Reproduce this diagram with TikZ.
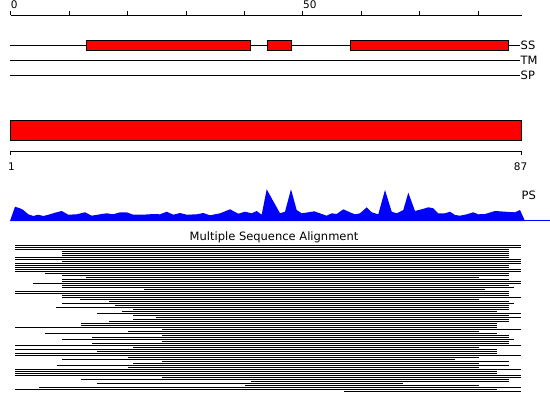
\documentclass[tikz,border=0pt]{standalone}
\usepackage{fontspec}
\setmainfont{DejaVu Sans}
\usetikzlibrary{positioning}

\begin{document}
\begin{tikzpicture}[x=1pt,y=-1pt,
    lbl/.style={inner sep=0pt,font=\fontsize{11.5}{13}\selectfont},
    num/.style={inner sep=0pt,font=\fontsize{10.5}{12}\selectfont},
    redbox/.style={draw=black,fill=red,line width=1pt},
    track/.style={line width=1pt},
    seq/.style={line width=1pt}]

    \useasboundingbox (0,0) rectangle (550,413);

    % top ruler
    \draw[track] (10.7,15) -- (521.5,15);
    \foreach \k in {0,...,8}
        \draw[track] (10.7+58.45*\k,15) -- ++(0,-4);
    \node (n0) [num,anchor=base west] at (10.7,8.8) {0};
    \node (n50) [num,anchor=base west] at (303,8.8) {50};

    % feature tracks
    \draw[track] (10,45) -- (520,45);
    \draw[redbox] (86.3,40) rectangle (250.3,50.7);
    \draw[redbox] (267.3,40) rectangle (291,50.7);
    \draw[redbox] (350.3,40) rectangle (508.3,50.7);
    \draw[track] (10,60.3) -- (520,60.3);
    \draw[track] (10,75.3) -- (520,75.3);
    \node (ss) [lbl,anchor=west] at (520.5,45) {SS};
    \node (tm) [lbl,anchor=west] at (520.5,60.3) {TM};
    \node (sp) [lbl,anchor=west] at (520.5,75.3) {SP};

    % query bar and its ruler
    \draw[redbox] (10.5,120.5) rectangle (521,140.5);
    \draw[track] (10.5,151) -- (521,151);
    \draw[track] (10.5,151) -- ++(0,4);
    \draw[track] (521,151) -- ++(0,4);
    \node (n1) [num,anchor=base] at (11.5,170) {1};
    \node (n87) [num,anchor=base] at (520.6,170) {87};

    % profile
    \fill[blue] (10,221) -- (15,206.7) -- (20,208.3) -- (23.3,210) -- (28.3,214.3)
        -- (33.3,216) -- (38.3,214.7) -- (43.3,216) -- (50,214.3) -- (55,212.7)
        -- (61.7,211) -- (68.3,214.7) -- (76.7,214.3) -- (85,212.3) -- (91.7,215.7)
        -- (100,214.3) -- (106.7,213.3) -- (113.3,214.3) -- (120,212.3) -- (126.7,212.3)
        -- (133.3,214.7) -- (143.3,214.7) -- (153.3,214) -- (160,214.3) -- (166.7,211.7)
        -- (173.3,214.7) -- (180,213) -- (186.7,214.7) -- (196.7,214.3) -- (203.3,213)
        -- (210,215.3) -- (220,213.3) -- (230,209.3) -- (238.3,213.7) -- (245,211.7)
        -- (251.7,213.3) -- (256.7,211) -- (261.7,214.7) -- (266.7,189.3) -- (280,213.3)
        -- (285,211.7) -- (291,189.3) -- (296.7,210) -- (301.7,213.3) -- (308.3,212.3)
        -- (314.3,211.3) -- (320,213.3) -- (326.7,215.7) -- (331.7,213.3) -- (336.7,214)
        -- (343.3,209.3) -- (350,212.3) -- (355,214.3) -- (360,213.3) -- (366.7,207.3)
        -- (371.7,212.3) -- (378.3,214.3) -- (385,190) -- (391.7,211.7) -- (396.7,213.3)
        -- (403.3,210) -- (408.3,192.7) -- (415,211) -- (421.7,209.3) -- (428.3,207.3)
        -- (433.3,208.3) -- (438.3,213.3) -- (445,213.3) -- (450,211.7) -- (455,215)
        -- (460,215.7) -- (466.7,214.3) -- (473.3,212.3) -- (478.3,214.3) -- (485,214)
        -- (495,211) -- (505,211.7) -- (515,212.3) -- (520,210) -- (525,221) -- cycle;
    \draw[blue,track] (524,220.5) -- (550,220.5);
    \node (ps) [lbl,anchor=west] at (521.5,195.7) {PS};

    % alignment
    \node (msa) [lbl,anchor=base] at (274,240) {Multiple Sequence Alignment};
    \foreach \s/\e [count=\r from 0] in {
        15.3/520.7, 15.3/520.7, 15.3/508.7, 62.3/508.7, 62.3/508.7, 62.3/508.7,
        15.3/508.7, 15.3/520.7, 62.3/520.7, 15.3/520.7, 15.3/508.7, 15.3/508.7,
        15.3/520.7, 15.3/520.7, 45/508.7, 62.3/508.7, 86/478.7, 62.3/508.7,
        62.3/520.7, 33.3/520.7, 62.3/508.7, 62.3/514.3, 144.3/484.7, 15.3/508.7,
        15.3/508.7, 62.3/508.7, 62.3/520.7, 80.3/478.7, 109.3/508.7, 62.3/514.3,
        115.3/508.7, 56.3/508.7, 133.3/508.7, 121.7/496.7, 97.3/520.7, 133.3/508.7,
        156/520.7, 133.3/508.7, 109.3/508.7, 80.7/496.7, 80.7/496.7, 15.3/496.7,
        162.3/520.7, 127.7/478.7, 45.3/496.7, 162.3/508.7, 92.3/508.7, 62.3/514.3,
        162.3/508.7, 92.3/508.7, 15.3/520.7, 133.3/478.7, 15.3/496.7, 97.3/496.7,
        15.3/496.7, 15.3/520.7, 127.7/478.7, 62.3/455, 162.3/508.7, 133.3/478.7,
        56.7/508.7, 127.7/478.7, 15.3/520.7, 15.3/496.7, 15.3/496.7, 15.3/520.7,
        162.3/520.7, 80.7/508.7, 250.7/508.7, 97.3/402.7, 245/478.7, 39.3/520.7,
        15.3/496.7, 344.3/520.7}
        \draw[seq] (\s,245+2*\r) -- (\e,245+2*\r);

\end{tikzpicture}
\end{document}
